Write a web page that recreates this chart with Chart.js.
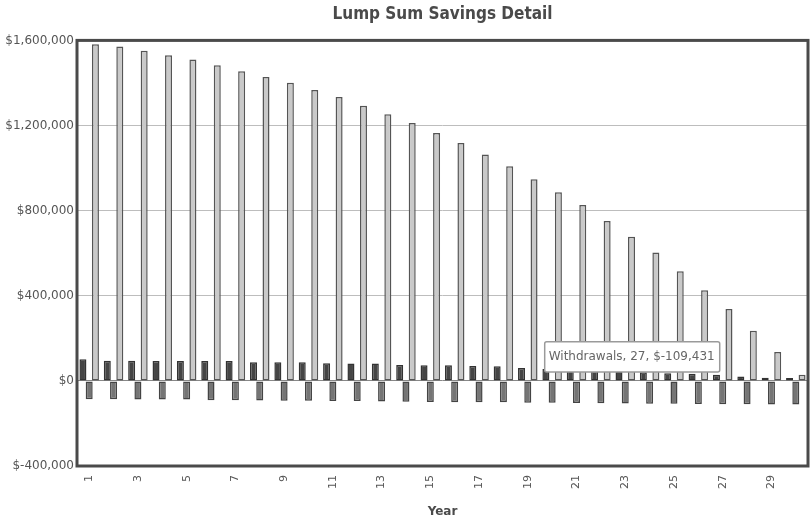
<!DOCTYPE html>
<html>
<head>
<meta charset="utf-8">
<script src="https://cdn.jsdelivr.net/npm/chart.js@4/dist/chart.umd.min.js"></script>
<style>
  html, body { margin: 0; padding: 0; background: #fff; overflow: hidden; }
  #wrap { width: 810px; height: 522px; }
</style>
</head>
<body>
<div id="wrap"><canvas id="c" width="810" height="522"></canvas></div>
<script>
// Years of the drawdown plan
const years = ['1','2','3','4','5','6','7','8','9','10','11','12','13','14','15',
               '16','17','18','19','20','21','22','23','24','25','26','27','28','29','30'];

// Investment earnings credited each year
const earnings = [102000, 95000, 95000, 94000, 94000, 93000, 93000, 88000, 87000, 87000,
                  83000, 82000, 82000, 75000, 74000, 74000, 70000, 69000, 60000, 56000,
                  52000, 48000, 44000, 40000, 36000, 33000, 29000, 21000, 15000, 14000];

// Amount taken out each year
const withdrawals = [-86000, -86500, -87000, -87500, -88000, -90500, -91500, -92000, -93000, -93500,
                     -94000, -95000, -97000, -98000, -99000, -100000, -100500, -101000, -102500, -103000,
                     -104000, -105000, -106000, -107000, -107500, -108500, -109431, -110000, -110500, -111000];

// Remaining balance at year end
const balance = [1582000, 1571000, 1551000, 1530000, 1510000, 1483000, 1455000, 1428000, 1401000, 1367000,
                 1334000, 1293000, 1253000, 1212000, 1165000, 1118000, 1064000, 1009000, 948000, 887000,
                 826000, 751000, 677000, 603000, 515000, 426000, 338000, 236000, 136000, 29000];

// Y axis range and step
const yMin = -400000, yMax = 1600000, yStep = 400000;

// Highlighted point: Withdrawals in year 27
const focusSeries = 1, focusYear = 26;

const money = v => '$' + Number(v).toLocaleString('en-US');

// Heavy frame around the plot area
const framePlugin = {
  id: 'frame',
  afterDatasetsDraw(chart) {
    const a = chart.chartArea, ctx = chart.ctx;
    ctx.save();
    ctx.strokeStyle = '#4a4a4a';
    ctx.lineWidth = 3;
    ctx.strokeRect(a.left, a.top, a.right - a.left, a.bottom - a.top);
    ctx.restore();
  }
};

// Tooltip sits just left of the bar, a little above the zero line
Chart.Tooltip.positioners.besideBar = function (items) {
  if (!items.length) return false;
  const el = items[0].element;
  const zero = this.chart.scales.y.getPixelForValue(0);
  return { x: el.x, y: zero - 24 };
};

const chart = new Chart(document.getElementById('c'), {
  type: 'bar',
  data: {
    labels: years,
    datasets: [
      { label: 'Earnings', data: earnings, backgroundColor: '#454545', borderColor: '#333', borderWidth: 1.5 },
      { label: 'Withdrawals', data: withdrawals, backgroundColor: '#757575', borderColor: '#444', borderWidth: 1.5 },
      { label: 'Balance', data: balance, backgroundColor: '#c9c9c9', borderColor: '#555', borderWidth: 1.5 }
    ]
  },
  options: {
    responsive: false,
    animation: false,
    devicePixelRatio: 1,
    layout: { padding: { left: 0, right: 2, top: 0, bottom: 0 } },
    datasets: { bar: { categoryPercentage: 0.77, barPercentage: 1.12, borderSkipped: false } },
    events: [],
    plugins: {
      legend: { display: false },
      title: {
        display: true,
        fullSize: false,
        text: 'Lump Sum Savings Detail',
        color: '#4a4a4a',
        font: { family: "'DejaVu Sans Condensed', 'DejaVu Sans', sans-serif", size: 17, weight: 'bold' },
        padding: { top: 4, bottom: 16 }
      },
      tooltip: {
        enabled: true,
        position: 'besideBar',
        xAlign: 'right',
        yAlign: 'center',
        caretSize: 0,
        caretPadding: 3,
        backgroundColor: '#ffffff',
        borderColor: '#9a9a9a',
        borderWidth: 1.5,
        cornerRadius: 2,
        displayColors: false,
        bodyColor: '#666',
        bodyFont: { family: "'DejaVu Sans', sans-serif", size: 12 },
        padding: { left: 4, right: 5, top: 8, bottom: 8 },
        callbacks: {
          title: () => '',
          label: ctx => ctx.dataset.label + ', ' + ctx.label + ', ' + money(ctx.raw)
        }
      }
    },
    scales: {
      x: {
        grid: { display: false, drawTicks: false },
        border: { display: false },
        ticks: {
          autoSkip: false,
          minRotation: 90,
          maxRotation: 90,
          padding: 9,
          color: '#555',
          font: { family: "'DejaVu Sans', sans-serif", size: 11 },
          callback: (v, i) => (i % 2 === 0 ? years[i] : '')
        },
        title: {
          display: true,
          text: 'Year',
          color: '#4a4a4a',
          font: { family: "'DejaVu Sans', sans-serif", size: 12, weight: 'bold' },
          padding: { top: 0, bottom: 3 }
        },
        afterFit: s => { s.height = 56; s.paddingLeft = 0; s.paddingRight = 0; }
      },
      y: {
        min: yMin,
        max: yMax,
        grid: {
          drawTicks: false,
          lineWidth: 1,
          color: ctx => (ctx.tick && ctx.tick.value === 0 ? '#888' : '#bdbdbd')
        },
        border: { display: false },
        ticks: {
          stepSize: yStep,
          padding: 3,
          color: '#555',
          font: { family: "'DejaVu Sans', sans-serif", size: 12 },
          callback: v => money(v)
        },
        afterFit: s => { s.width = 77; }
      }
    }
  },
  plugins: [framePlugin]
});

const el = chart.getDatasetMeta(focusSeries).data[focusYear];
chart.tooltip.setActiveElements([{ datasetIndex: focusSeries, index: focusYear }], { x: el.x, y: el.y });
chart.update('none');
</script>
</body>
</html>
